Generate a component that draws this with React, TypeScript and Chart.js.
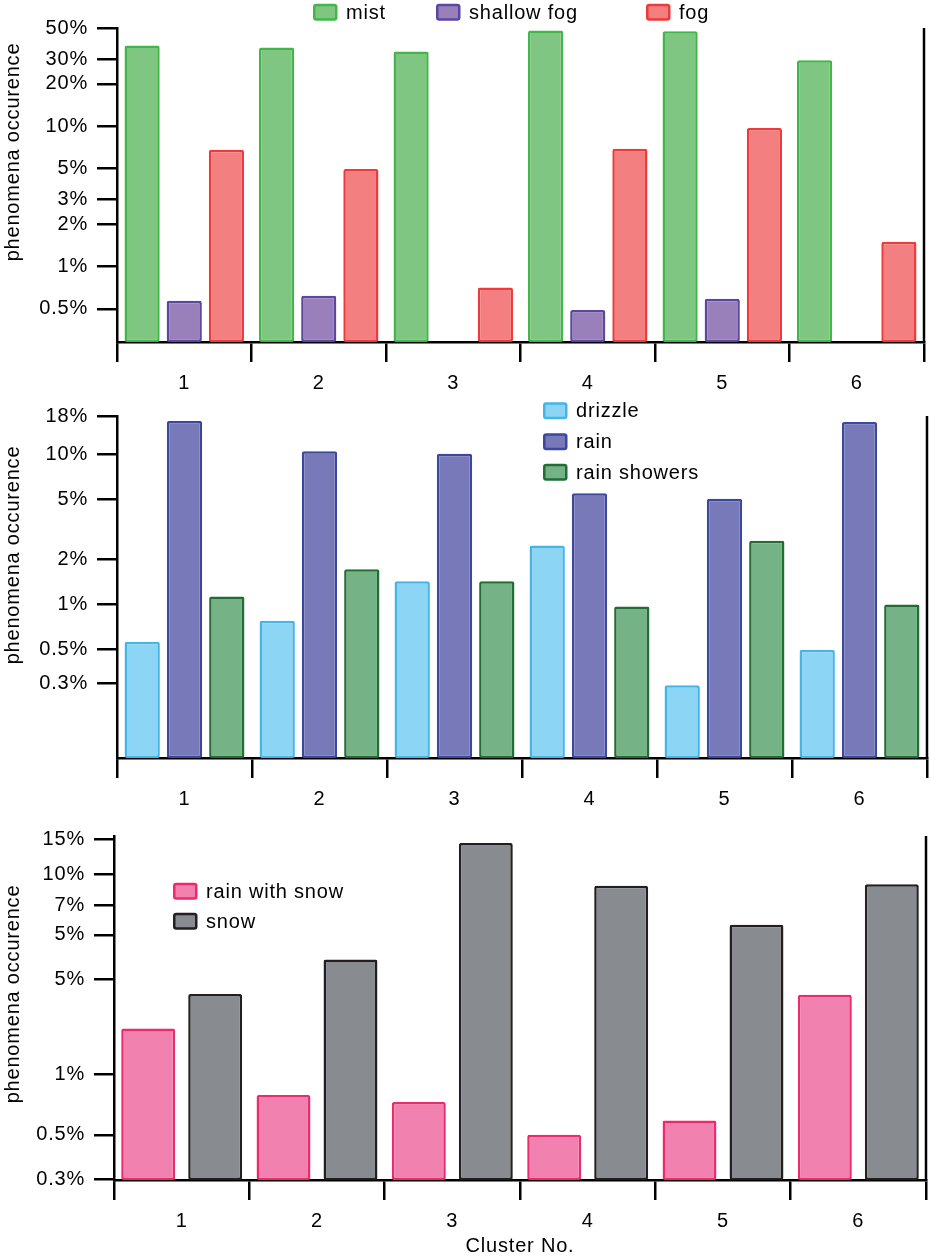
import React, { useEffect, useRef } from "react";
import Chart from "chart.js/auto";

const clusters = ["1", "2", "3", "4", "5", "6"];

// panel 1 – fog phenomena (% of observations)
const mist = [37.5, 36.3, 34, 48, 47.4, 29.5];
const shallowFog = [0.57, 0.62, null, 0.49, 0.59, null];
const fog = [6.8, 4.95, 0.71, 6.9, 9.7, 1.5];
const fogTicks = [0.5, 1, 2, 3, 5, 10, 20, 30, 50];
const fogTickLabels = ["0.5%", "1%", "2%", "3%", "5%", "10%", "20%", "30%", "50%"];

// panel 2 – liquid precipitation
const drizzle = [0.565, 0.78, 1.43, 2.47, 0.29, 0.5];
const rain = [16.7, 10.5, 10.1, 5.5, 5.06, 16.4];
const rainShowers = [1.13, 1.72, 1.43, 0.97, 2.66, 1.0];
const rainTicks = [0.3, 0.5, 1, 2, 5, 10, 18];
const rainTickLabels = ["0.3%", "0.5%", "1%", "2%", "5%", "10%", "18%"];

// panel 3 – solid precipitation (tick labels as printed in the figure)
const rainWithSnow = [1.7, 0.79, 0.73, 0.5, 0.59, 2.51];
const snow = [2.53, 3.76, 14.4, 8.8, 5.61, 8.95];
const snowTicks = [0.3, 0.5, 1, 3, 5, 7, 10, 15];
const snowTickLabels = ["0.3%", "0.5%", "1%", "5%", "5%", "7%", "10%", "15%"];

const FONT_FAMILY = '"Liberation Sans", Arial, Helvetica, sans-serif';
const FONT_SIZE = 20;
const LETTER_SPACING = "0.8px";

// right frame line, rotated y title and the hand placed legend
const panelExtras = {
  id: "panelExtras",
  beforeUpdate(chart: any) {
    chart.ctx.letterSpacing = LETTER_SPACING;
  },
  beforeDraw(chart: any) {
    chart.ctx.letterSpacing = LETTER_SPACING;
  },
  afterDraw(chart: any, _args: any, opts: any) {
    const { ctx, chartArea } = chart;
    ctx.save();
    ctx.strokeStyle = "#000";
    ctx.lineWidth = 2.5;
    ctx.beginPath();
    ctx.moveTo(chartArea.right, chartArea.top);
    ctx.lineTo(chartArea.right, chartArea.bottom);
    ctx.stroke();

    ctx.font = `${FONT_SIZE}px ${FONT_FAMILY}`;
    ctx.fillStyle = "#000";
    ctx.textBaseline = "middle";

    ctx.save();
    ctx.translate(opts.titleX, (chartArea.top + chartArea.bottom) / 2 + opts.titleShift);
    ctx.rotate(-Math.PI / 2);
    ctx.textAlign = "center";
    ctx.fillText(opts.yTitle, 0, 0);
    ctx.restore();

    ctx.textAlign = "left";
    chart.data.datasets.forEach((ds: any, i: number) => {
      const [x, y] = opts.legendAt[i];
      ctx.beginPath();
      ctx.roundRect(x + 1.25, y - 7, 22, 14.5, 2);
      ctx.fillStyle = ds.backgroundColor;
      ctx.fill();
      ctx.lineWidth = 2.5;
      ctx.strokeStyle = ds.borderColor;
      ctx.stroke();
      ctx.fillStyle = "#000";
      ctx.fillText(ds.label, x + 33, y + 1);
    });
    ctx.restore();
  },
};

const bar = (label: string, data: (number | null)[], fill: string, line: string) => ({
  label,
  data,
  backgroundColor: fill,
  borderColor: line,
  borderWidth: 2.5,
  borderSkipped: false,
  borderRadius: 2,
});

type PanelOpts = {
  datasets: any[];
  ticks: number[];
  tickLabels: string[];
  min: number;
  max: number;
  axisLeft: number;
  xHeight: number;
  padTop: number;
  padRight: number;
  categoryPercentage: number;
  barPercentage: number;
  legendAt: number[][];
  titleShift: number;
  xTitle?: string;
};

function makeConfig(o: PanelOpts): any {
  const font = { family: FONT_FAMILY, size: FONT_SIZE };
  return {
    type: "bar",
    data: {
      labels: clusters,
      datasets: o.datasets.map((d) => ({
        ...d,
        categoryPercentage: o.categoryPercentage,
        barPercentage: o.barPercentage,
      })),
    },
    options: {
      responsive: false,
      animation: false,
      layout: { padding: { top: o.padTop, right: o.padRight, left: 0, bottom: 0 } },
      plugins: {
        legend: { display: false },
        tooltip: { enabled: false },
        panelExtras: {
          yTitle: "phenomena occurence",
          titleX: 13,
          titleShift: o.titleShift,
          legendAt: o.legendAt,
        },
      },
      scales: {
        x: {
          type: "category",
          border: { display: true, color: "#000", width: 2.5 },
          grid: {
            offset: true,
            drawOnChartArea: false,
            drawTicks: true,
            tickLength: 20,
            color: "#000",
            lineWidth: 2.5,
          },
          ticks: { color: "#000", font, padding: 9, maxRotation: 0 },
          title: {
            display: !!o.xTitle,
            text: o.xTitle || "",
            color: "#000",
            font,
            padding: { top: 0, bottom: 0 },
          },
          afterFit: (scale: any) => {
            scale.height = o.xHeight;
          },
        },
        y: {
          type: "logarithmic",
          min: o.min,
          max: o.max,
          border: { display: true, color: "#000", width: 2.5 },
          grid: {
            drawOnChartArea: false,
            drawTicks: true,
            tickLength: 20,
            color: "#000",
            lineWidth: 2.5,
          },
          ticks: {
            autoSkip: false,
            color: "#000",
            font,
            padding: 9,
            callback: (_v: any, i: number) => o.tickLabels[i],
          },
          afterBuildTicks: (scale: any) => {
            scale.ticks = o.ticks.map((value) => ({ value }));
          },
          afterFit: (scale: any) => {
            scale.width = o.axisLeft;
          },
        },
      },
    },
    plugins: [panelExtras],
  };
}

const Panel: React.FC<{ top: number; height: number; opts: PanelOpts }> = ({ top, height, opts }) => {
  const canvasRef = useRef<HTMLCanvasElement | null>(null);

  useEffect(() => {
    if (!canvasRef.current) return;
    const chart = new Chart(canvasRef.current, makeConfig(opts));
    return () => {
      chart.destroy();
    };
  }, []);

  return (
    <canvas
      ref={canvasRef}
      width={931}
      height={height}
      style={{ position: "absolute", left: 0, top, width: 931, height, display: "block" }}
    />
  );
};

const fogPanel: PanelOpts = {
  datasets: [
    bar("mist", mist, "#80c683", "#42b649"),
    bar("shallow fog", shallowFog, "#9a80ba", "#5a47a0"),
    bar("fog", fog, "#f37f80", "#ee3a3a"),
  ],
  ticks: fogTicks,
  tickLabels: fogTickLabels,
  min: 0.29,
  max: 50,
  axisLeft: 117,
  xHeight: 58,
  padTop: 28,
  padRight: 7,
  categoryPercentage: 0.94,
  barPercentage: 0.835,
  legendAt: [
    [313, 12],
    [436, 12],
    [646, 12],
  ],
  titleShift: -33,
};

const rainPanel: PanelOpts = {
  datasets: [
    bar("drizzle", drizzle, "#8dd5f5", "#45b5e8"),
    bar("rain", rain, "#7779b9", "#3c489d"),
    bar("rain showers", rainShowers, "#75b386", "#206d36"),
  ],
  ticks: rainTicks,
  tickLabels: rainTickLabels,
  min: 0.095,
  max: 18,
  axisLeft: 117,
  xHeight: 57,
  padTop: 12,
  padRight: 4,
  categoryPercentage: 0.94,
  barPercentage: 0.835,
  legendAt: [
    [543, 15.5],
    [543, 46.5],
    [543, 77],
  ],
  titleShift: -32,
};

const snowPanel: PanelOpts = {
  datasets: [
    bar("rain with snow", rainWithSnow, "#f182b0", "#ec2a6e"),
    bar("snow", snow, "#888b8f", "#231f20"),
  ],
  ticks: snowTicks,
  tickLabels: snowTickLabels,
  min: 0.297,
  max: 15.6,
  axisLeft: 114,
  xHeight: 78,
  padTop: 17,
  padRight: 5,
  categoryPercentage: 0.99,
  barPercentage: 0.805,
  legendAt: [
    [173, 76],
    [173, 106],
  ],
  titleShift: -14,
  xTitle: "Cluster No.",
};

export default function App() {
  return (
    <div style={{ position: "absolute", left: 0, top: 0, width: 931, height: 1258, background: "#fff" }}>
      <Panel top={0} height={400} opts={fogPanel} />
      <Panel top={395} height={420} opts={rainPanel} />
      <Panel top={815} height={443} opts={snowPanel} />
    </div>
  );
}
